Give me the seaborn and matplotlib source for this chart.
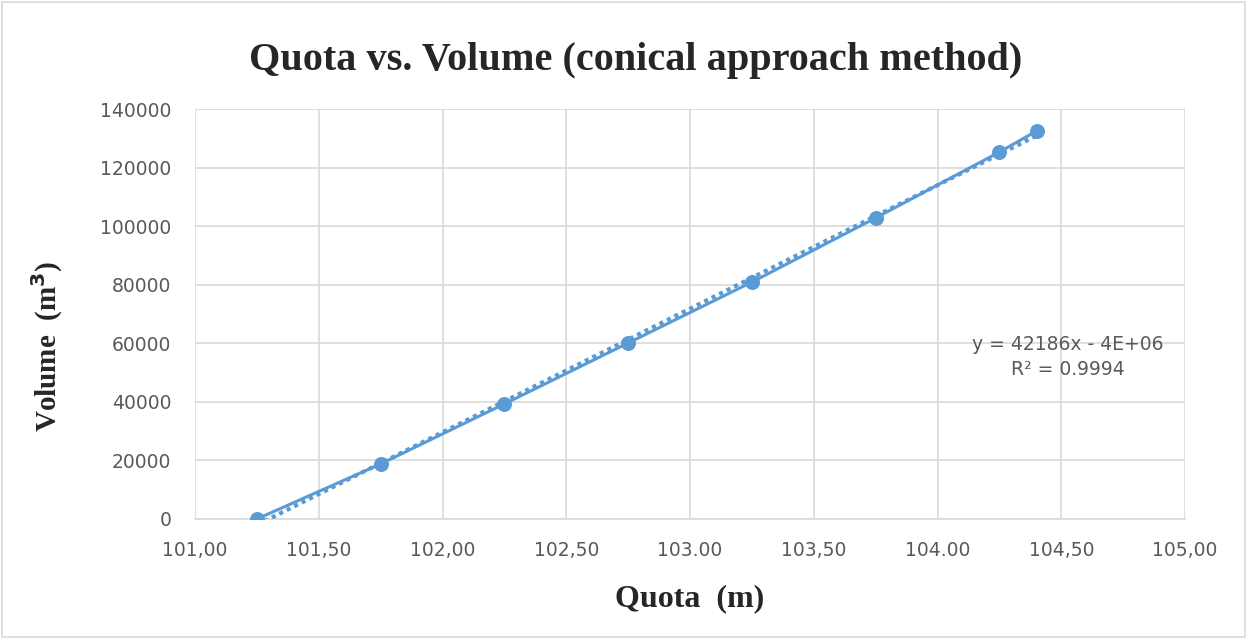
import numpy as np
import pandas as pd
import matplotlib
matplotlib.use("Agg")
import matplotlib.pyplot as plt
import seaborn as sns

# Data
quota = [101.25, 101.75, 102.25, 102.75, 103.25, 103.75, 104.25, 104.40]
volume = [0, 18800, 39300, 60100, 80900, 102800, 125300, 132500]
x_ticks = [101.0, 101.5, 102.0, 102.5, 103.0, 103.5, 104.0, 104.5, 105.0]
x_tick_labels = ["101,00", "101,50", "102,00", "102,50", "103.00", "103,50", "104.00", "104,50", "105,00"]
y_ticks = [0, 20000, 40000, 60000, 80000, 100000, 120000, 140000]
eq_text = "y = 42186x - 4E+06"
r2_text = "R² = 0.9994"

df = pd.DataFrame({"Quota": quota, "Volume": volume})

sns.set_style("white")
plt.rcParams['font.family'] = ['DejaVu Sans']

color = "#5B9BD5"
grid_c = "#D9D9D9"
tick_c = "#595959"

fig = plt.figure(figsize=(12.47, 6.39), dpi=100)
ax = fig.add_axes([0.1564, 0.1878, 0.9503 - 0.1564, 0.8294 - 0.1878])

# trendline
coef = np.polyfit(quota, volume, 1)
xt = np.array([quota[0], quota[-1]])
ax.plot(xt, np.polyval(coef, xt), linestyle=(0, (1, 1)), color=color, linewidth=3.0, zorder=3)

sns.lineplot(data=df, x="Quota", y="Volume", ax=ax, color=color, linewidth=2.2,
             marker="o", markersize=10, markeredgecolor=color, zorder=4)

ax.set_xlim(101.0, 105.0)
ax.set_ylim(0, 140000)
ax.set_xticks(x_ticks)
ax.set_xticklabels(x_tick_labels)
ax.set_yticks(y_ticks)
ax.set_yticklabels([str(v) for v in y_ticks])
ax.tick_params(axis="both", length=0, labelsize=13.5, colors=tick_c)
ax.tick_params(axis="x", pad=16)
ax.tick_params(axis="y", pad=17)

ax.grid(True, color=grid_c, linewidth=1.2)
ax.set_axisbelow(True)
for s in ["top", "right", "left"]:
    ax.spines[s].set_visible(False)
ax.spines["bottom"].set_color(grid_c)
ax.spines["bottom"].set_linewidth(1.2)

ax.set_xlabel("Quota  (m)", fontfamily="Liberation Serif", fontweight="bold", fontsize=23)
ax.set_ylabel("Volume  (m$^{\\mathbf{3}}$)", fontfamily="Liberation Serif", fontweight="bold", fontsize=21)
ax.xaxis.set_label_coords(0.5, -0.158)
ax.yaxis.set_label_coords(-0.131, 0.42)

fig.text(0.51, 0.906, "Quota vs. Volume (conical approach method)", ha="center", va="center",
         fontfamily="Liberation Serif", fontweight="bold", fontsize=29)

ax.text(104.527, 59700, eq_text, ha="center", va="center", fontsize=13.5, color=tick_c)
ax.text(104.527, 50900, r2_text, ha="center", va="center", fontsize=13.5, color=tick_c)

# outer border
fig.patches.append(plt.Rectangle((0.002, 0.003), 0.996, 0.994, transform=fig.transFigure,
                                 fill=False, edgecolor="#D9D9D9", linewidth=1.2))

fig.savefig("out.png", dpi=100)
